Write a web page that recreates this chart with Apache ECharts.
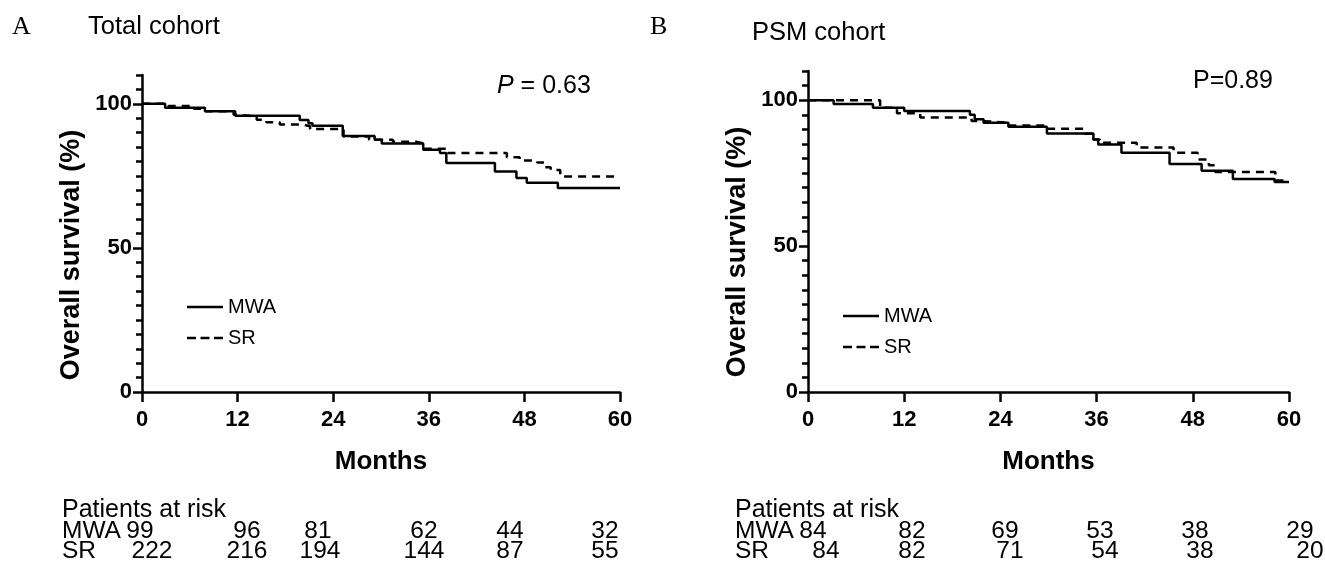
<!DOCTYPE html>
<html>
<head>
<meta charset="utf-8">
<script src="https://cdn.jsdelivr.net/npm/echarts/dist/echarts.min.js"></script>
<style>
  html, body { margin: 0; padding: 0; background: #fff; }
  #main { width: 1325px; height: 564px; }
</style>
</head>
<body>
<div id="main"></div>
<script>
// Kaplan-Meier steps: month of each drop and survival (%) after it
var monthsA_MWA = [0, 2.9, 7.9, 11.7, 19.8, 20.9, 21.4, 25.2, 29.2, 30.1, 35.3, 37.4, 38.2, 44.3, 47.0, 48.3, 52.2, 60];
var survA_MWA   = [100, 98.6, 97.4, 95.9, 94.4, 93.3, 92.4, 88.8, 87.5, 86.2, 84.1, 82.9, 79.5, 76.5, 74.3, 72.6, 70.8, 70.8];
var monthsA_SR  = [0, 3.3, 6.5, 8.0, 11.5, 12.0, 14.4, 15.6, 17.3, 20.2, 21.1, 25.3, 28.5, 31.5, 34.5, 35.5, 38.4, 45.8, 47.4, 49.6, 50.6, 51.3, 52.5, 60];
var survA_SR    = [100, 99.2, 98.3, 97.4, 96.2, 95.6, 94.5, 93.6, 92.8, 92.2, 91.3, 88.7, 87.5, 86.8, 86.2, 84.4, 82.9, 81.5, 80.3, 79.6, 78.0, 77.0, 74.8, 74.8];

var monthsB_MWA = [0, 3.2, 8.1, 12.0, 20.2, 20.8, 21.9, 25.0, 29.8, 35.6, 36.2, 39.1, 45.1, 49.1, 53.0, 58.2, 60];
var survB_MWA   = [100, 98.7, 97.4, 96.3, 95.0, 93.5, 92.3, 90.9, 88.6, 86.5, 84.8, 82.0, 78.1, 75.8, 73.0, 72.0, 72.0];
var monthsB_SR  = [0, 9.0, 11.1, 14.0, 20.4, 21.4, 25.0, 29.5, 34.5, 35.6, 36.4, 41.0, 45.6, 48.6, 50.0, 50.8, 58.3, 60];
var survB_SR    = [100, 97.4, 95.5, 94.1, 92.9, 92.3, 91.3, 90.2, 88.5, 86.5, 85.4, 83.8, 82.0, 79.7, 77.7, 75.4, 72.5, 72.5];

// numbers at risk
var riskA_MWA = [99, 96, 81, 62, 44, 32];
var riskA_SR  = [222, 216, 194, 144, 87, 55];
var riskB_MWA = [84, 82, 69, 53, 38, 29];
var riskB_SR  = [84, 82, 71, 54, 38, 20];

var yLabels = [0, 50, 100];

// where the risk-table numbers sit (pixel centres)
var riskColsA_MWA = [140, 247, 318, 424, 510, 605];
var riskColsA_SR  = [152, 247, 320, 424, 510, 605];
var riskColsB_MWA = [813, 912, 1005, 1100, 1195, 1300];
var riskColsB_SR  = [826, 912, 1010, 1105, 1200, 1310];

var SANS = 'Liberation Sans, Arial, sans-serif';
var SERIF = 'Liberation Serif, Times New Roman, serif';

function zip(xs, ys) {
  return xs.map(function (x, i) { return [x, ys[i]]; });
}

var myChart = echarts.init(document.getElementById('main'));

function xAxis(gridIndex) {
  return {
    type: 'value', gridIndex: gridIndex, min: 0, max: 60, interval: 12,
    name: 'Months', nameLocation: 'middle', nameGap: 57,
    nameTextStyle: { fontFamily: SANS, fontSize: 26, fontWeight: 'bold', color: '#000' },
    axisLine: { lineStyle: { color: '#000', width: 2.5 } },
    axisTick: { length: 10, lineStyle: { color: '#000', width: 2.5 } },
    axisLabel: { margin: 17, fontFamily: SANS, fontSize: 22, fontWeight: 'bold', color: '#000' },
    splitLine: { show: false }
  };
}

function yAxes(gridIndex) {
  return [{
    type: 'value', gridIndex: gridIndex, min: 0, max: 110, interval: 5, position: 'left',
    axisLine: { lineStyle: { color: '#000', width: 2.5 } },
    axisTick: { length: 6, lineStyle: { color: '#000', width: 2.5 } },
    axisLabel: { customValues: yLabels, margin: 10, fontFamily: SANS, fontSize: 22, fontWeight: 'bold', color: '#000' },
    splitLine: { show: false }
  }, {
    type: 'value', gridIndex: gridIndex, min: 0, max: 110, position: 'left',
    axisLine: { show: false },
    axisTick: { customValues: yLabels, length: 9, lineStyle: { color: '#000', width: 2.5 } },
    axisLabel: { show: false },
    splitLine: { show: false }
  }];
}

function kmSeries(name, axisIndex, yIndex, xs, ys) {
  return {
    type: 'line', name: name, xAxisIndex: axisIndex, yAxisIndex: yIndex,
    step: 'end', symbol: 'none', silent: true,
    data: zip(xs, ys),
    itemStyle: { color: '#000' },
    lineStyle: { color: '#000', width: 2.5, type: name === 'SR' ? [8, 6] : 'solid' }
  };
}

function label(text, x, y, size, extra) {
  var st = { text: text, x: 0, y: 0, fontFamily: SANS, fontSize: size, fill: '#000',
             textAlign: 'left', textVerticalAlign: 'middle' };
  var el = { type: 'text', x: x, y: y, style: st, silent: true };
  for (var k in extra) {
    if (k === 'rotation') el.rotation = extra[k];
    else st[k] = extra[k];
  }
  return el;
}

var yTitleStyle = { textAlign: 'center', fontWeight: 'bold', rotation: Math.PI / 2 };

var graphics = [
  label('A', 12, 27, 26, { fontFamily: SERIF }),
  label('Total cohort', 88, 27, 25.5),
  label('B', 650, 27, 26, { fontFamily: SERIF }),
  label('PSM cohort', 752, 33, 25.5),
  label('{i|P} = 0.63', 497, 86, 25, { rich: { i: { fontStyle: 'italic', fontFamily: SANS, fontSize: 25 } } }),
  label('P=0.89', 1193, 81, 25),
  label('Overall survival (%)', 72, 255, 27, yTitleStyle),
  label('Overall survival (%)', 738, 252, 27, yTitleStyle),
  label('Patients at risk', 62, 510, 25),
  label('MWA', 62, 531, 24.5),
  label('SR', 62, 551, 24.5),
  label('Patients at risk', 735, 510, 25),
  label('MWA', 735, 531, 24.5),
  label('SR', 735, 551, 24.5)
];

function riskRow(values, cols, y) {
  values.forEach(function (v, i) {
    graphics.push(label(String(v), cols[i], y, 24.5, { textAlign: 'center' }));
  });
}
riskRow(riskA_MWA, riskColsA_MWA, 531);
riskRow(riskA_SR, riskColsA_SR, 551);
riskRow(riskB_MWA, riskColsB_MWA, 531);
riskRow(riskB_SR, riskColsB_SR, 551);

// legend keys: a solid bar and three dashes, like the plotted lines
var legendData = [
  { name: 'MWA', icon: 'path://M0,0H36V2.5H0Z' },
  { name: 'SR', icon: 'path://M0,0H9V2.5H0Z M13.5,0H22.5V2.5H13.5Z M27,0H36V2.5H27Z' }
];

var legendBase = {
  orient: 'vertical', data: legendData, itemWidth: 36, itemHeight: 2.5, itemGap: 11,
  selectedMode: false,
  itemStyle: { color: '#000', borderWidth: 0 },
  textStyle: { fontFamily: SANS, fontSize: 20, color: '#000' }
};

myChart.setOption({
  animation: false,
  backgroundColor: '#fff',
  grid: [
    { left: 142, top: 75, width: 478, height: 317 },
    { left: 808, top: 71, width: 481, height: 321 }
  ],
  xAxis: [xAxis(0), xAxis(1)],
  yAxis: yAxes(0).concat(yAxes(1)),
  legend: [
    Object.assign({}, legendBase, { left: 182, top: 292 }),
    Object.assign({}, legendBase, { left: 838, top: 301 })
  ],
  series: [
    kmSeries('MWA', 0, 0, monthsA_MWA, survA_MWA),
    kmSeries('SR', 0, 0, monthsA_SR, survA_SR),
    kmSeries('MWA', 1, 2, monthsB_MWA, survB_MWA),
    kmSeries('SR', 1, 2, monthsB_SR, survB_SR)
  ],
  graphic: graphics
});
</script>
</body>
</html>
